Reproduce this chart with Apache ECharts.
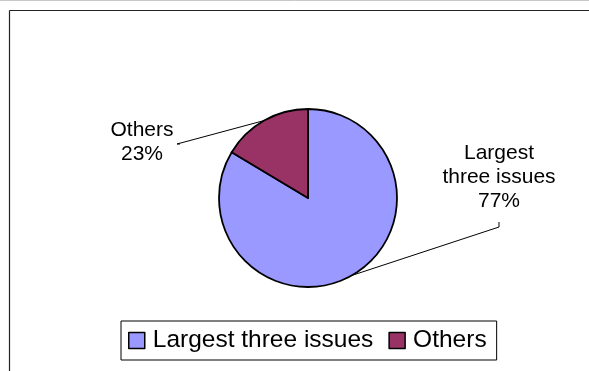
<!DOCTYPE html>
<html>
<head>
<meta charset="utf-8">
<script src="https://cdn.jsdelivr.net/npm/echarts@6/dist/echarts.min.js"></script>
<style>
  html, body { margin: 0; padding: 0; background: #fff; }
  #chart { width: 589px; height: 371px; }
</style>
</head>
<body>
<div id="chart"></div>
<script>
// ---- data ----
const categories = ['Largest three issues', 'Others'];
const sliceShares = [83.6, 16.4];          // proportions as drawn in the pie
const labelPercents = ['77%', '23%'];      // percentages printed on the labels
const labelNames = ['Largest\nthree issues', 'Others'];
const colors = ['#9999FF', '#993366'];

// ---- layout ----
const FONT = "'Liberation Sans', Arial, sans-serif";
const center = [308, 198];
const radius = 89;
// label anchor (center of label text) and leader-line end on the label side
const labelPos = [ {x: 499, y: 177}, {x: 142, y: 142} ];
const leaderEnds = [ [[499, 222], [499, 227]], [[180, 144], [177, 144]] ];

const total = sliceShares.reduce((a, b) => a + b, 0);
function midEdge(i) {
  let before = 0;
  for (let k = 0; k < i; k++) before += sliceShares[k];
  const midFrac = (before + sliceShares[i] / 2) / total;
  const ang = midFrac * 2 * Math.PI; // clockwise from 12 o'clock
  return [center[0] + radius * Math.sin(ang), center[1] - radius * Math.cos(ang)];
}

const chart = echarts.init(document.getElementById('chart'), null, {renderer: 'canvas'});

const leaderGraphics = sliceShares.map((v, i) => {
  const p0 = midEdge(i);
  const pts = [p0].concat(leaderEnds[i].slice().reverse());
  return {
    type: 'polyline',
    shape: { points: pts },
    style: { stroke: '#000', lineWidth: 1, fill: null },
    z: 10
  };
});

chart.setOption({
  animation: false,
  backgroundColor: '#fff',
  color: colors,
  legend: {
    data: categories,
    left: 121,
    top: 321,
    orient: 'horizontal',
    icon: 'rect',
    itemWidth: 16,
    itemHeight: 16,
    itemGap: 15,
    padding: [7, 10, 7, 7],
    borderColor: '#000',
    borderWidth: 1,
    backgroundColor: '#fff',
    itemStyle: { borderColor: '#000', borderWidth: 1.5 },
    textStyle: { fontFamily: FONT, fontSize: 24.5, color: '#000', padding: [0, 0, 0, 3] }
  },
  graphic: [
    { type: 'line', shape: {x1: 0, y1: 0.5, x2: 589, y2: 0.5}, style: {stroke: '#c8c8c8', lineWidth: 1} },
    { type: 'line', shape: {x1: 9.5, y1: 10.5, x2: 589, y2: 10.5}, style: {stroke: '#222', lineWidth: 1.2} },
    { type: 'line', shape: {x1: 9.5, y1: 10.5, x2: 9.5, y2: 371}, style: {stroke: '#222', lineWidth: 1.2} }
  ].concat(leaderGraphics),
  series: [{
    type: 'pie',
    center: center,
    radius: radius,
    startAngle: 90,
    clockwise: true,
    avoidLabelOverlap: false,
    silent: true,
    itemStyle: { borderColor: '#000', borderWidth: 1.8 },
    label: {
      show: true,
      position: 'outside',
      fontFamily: FONT,
      fontSize: 21,
      lineHeight: 24,
      color: '#000',
      align: 'center',
      formatter: p => labelNames[p.dataIndex] + '\n' + labelPercents[p.dataIndex]
    },
    labelLine: { show: false },
    labelLayout: p => ({
      x: labelPos[p.dataIndex].x,
      y: labelPos[p.dataIndex].y,
      align: 'center',
      verticalAlign: 'middle'
    }),
    data: categories.map((c, i) => ({ name: c, value: sliceShares[i] }))
  }]
});
</script>
</body>
</html>
